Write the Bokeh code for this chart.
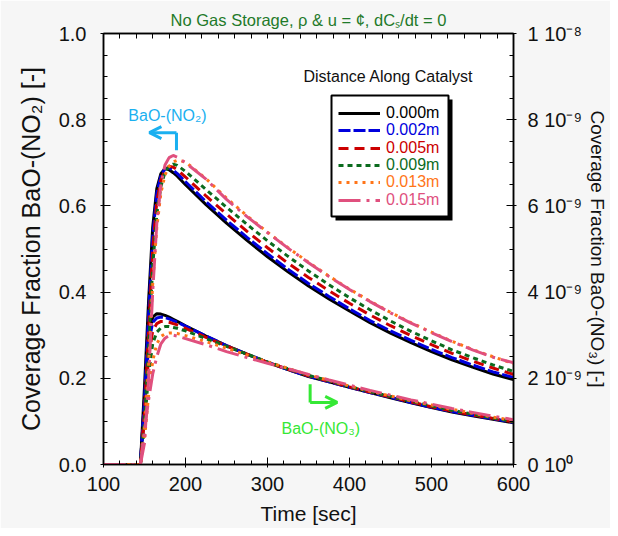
from bokeh.plotting import figure
from bokeh.models import (Range1d, LinearAxis, FixedTicker, PrintfTickFormatter, Legend,
                          LegendItem, Label, BoxAnnotation, Arrow, OpenHead)
from bokeh.embed import file_html
from bokeh.resources import INLINE

# ---------------- data ----------------
time_s = [100, 145, 150, 155, 160, 165, 170, 175, 180, 185, 190, 200, 225, 250, 275,
          300, 325, 350, 375, 400, 425, 450, 475, 500, 525, 550, 575, 600]

distances = ["0.000m", "0.002m", "0.005m", "0.009m", "0.013m", "0.015m"]

# BaO-(NO2) coverage fraction (left axis)
no2_000 = [0, 0, 0.18, 0.38, 0.55, 0.64, 0.675, 0.687, 0.684, 0.677, 0.669, 0.649, 0.603, 0.560, 0.520,
           0.482, 0.447, 0.414, 0.384, 0.356, 0.329, 0.305, 0.283, 0.262, 0.243, 0.226, 0.210, 0.197]
no2_002 = [0, 0, 0.15, 0.35, 0.53, 0.63, 0.670, 0.686, 0.688, 0.683, 0.675, 0.656, 0.610, 0.567, 0.527,
           0.489, 0.453, 0.420, 0.390, 0.361, 0.334, 0.310, 0.288, 0.267, 0.248, 0.231, 0.215, 0.202]
no2_005 = [0, 0, 0.12, 0.31, 0.50, 0.61, 0.660, 0.683, 0.692, 0.690, 0.684, 0.667, 0.623, 0.581, 0.541,
           0.503, 0.467, 0.434, 0.403, 0.374, 0.347, 0.322, 0.299, 0.278, 0.258, 0.240, 0.224, 0.209]
no2_009 = [0, 0, 0.10, 0.27, 0.46, 0.58, 0.645, 0.678, 0.692, 0.697, 0.694, 0.680, 0.638, 0.597, 0.557,
           0.519, 0.483, 0.449, 0.417, 0.387, 0.359, 0.333, 0.309, 0.287, 0.266, 0.248, 0.231, 0.216]
no2_013 = [0, 0, 0.08, 0.23, 0.42, 0.55, 0.630, 0.672, 0.692, 0.702, 0.706, 0.702, 0.663, 0.618, 0.577,
           0.539, 0.503, 0.469, 0.437, 0.407, 0.379, 0.353, 0.329, 0.307, 0.286, 0.267, 0.250, 0.234]
no2_015 = [0, 0, 0.05, 0.20, 0.40, 0.56, 0.650, 0.695, 0.712, 0.717, 0.713, 0.700, 0.662, 0.615, 0.575,
           0.538, 0.502, 0.468, 0.436, 0.406, 0.378, 0.352, 0.328, 0.306, 0.285, 0.266, 0.249, 0.236]

# BaO-(NO3) coverage fraction, in units of 1e-9 (right axis)
no3_000 = [0, 0, 1.5, 3.0, 3.42, 3.50, 3.49, 3.46, 3.42, 3.37, 3.32, 3.22, 2.98, 2.76, 2.56,
           2.37, 2.20, 2.04, 1.92, 1.79, 1.67, 1.55, 1.43, 1.32, 1.22, 1.13, 1.05, 0.97]
no3_002 = [0, 0, 1.3, 2.8, 3.30, 3.40, 3.42, 3.41, 3.38, 3.34, 3.30, 3.21, 2.98, 2.76, 2.56,
           2.37, 2.20, 2.05, 1.92, 1.79, 1.67, 1.56, 1.44, 1.33, 1.23, 1.14, 1.06, 0.98]
no3_005 = [0, 0, 1.1, 2.5, 3.10, 3.27, 3.32, 3.32, 3.30, 3.27, 3.24, 3.16, 2.95, 2.75, 2.56,
           2.37, 2.21, 2.06, 1.93, 1.80, 1.68, 1.57, 1.45, 1.34, 1.24, 1.15, 1.07, 0.99]
no3_009 = [0, 0, 0.9, 2.1, 2.80, 3.07, 3.17, 3.20, 3.20, 3.18, 3.16, 3.10, 2.92, 2.74, 2.56,
           2.38, 2.22, 2.07, 1.94, 1.81, 1.69, 1.58, 1.47, 1.36, 1.26, 1.17, 1.08, 1.00]
no3_013 = [0, 0, 0.6, 1.6, 2.40, 2.80, 2.97, 3.03, 3.05, 3.05, 3.04, 2.99, 2.85, 2.70, 2.54,
           2.38, 2.23, 2.08, 1.95, 1.82, 1.70, 1.59, 1.48, 1.38, 1.28, 1.19, 1.10, 1.02]
no3_015 = [0, 0, 0.8, 1.5, 2.10, 2.50, 2.80, 2.93, 2.99, 3.00, 2.98, 2.92, 2.78, 2.62, 2.48,
           2.35, 2.22, 2.09, 1.96, 1.84, 1.72, 1.61, 1.50, 1.40, 1.30, 1.21, 1.12, 1.04]

x_ticks = [100, 200, 300, 400, 500, 600]
y_ticks = [0.0, 0.2, 0.4, 0.6, 0.8, 1.0]
r_ticks = [0, 2, 4, 6, 8, 10]
r_tick_labels = ["0 10\u2070", "2 10\u207b\u2079", "4 10\u207b\u2079", "6 10\u207b\u2079",
                 "8 10\u207b\u2079", "1 10\u207b\u2078"]

# ---------------- styles ----------------
FONT = "Liberation Sans"
colors = ["#000000", "#0000dd", "#cc0000", "#0b6b1e", "#ff7518", "#e0507e"]
dashes = ["solid", "12 3", "10 6", "5 4", "3 5", "22 6 3 6"]
no2_series = [no2_000, no2_002, no2_005, no2_009, no2_013, no2_015]
no3_series = [no3_000, no3_002, no3_005, no3_009, no3_013, no3_015]

p = figure(width=610, height=528, x_range=Range1d(100, 600), y_range=Range1d(0, 1),
           output_backend="svg", toolbar_location=None,
           min_border_left=103, min_border_right=97, min_border_top=33, min_border_bottom=64)
p.extra_y_ranges = {"no3": Range1d(0, 10)}
p.grid.visible = False
p.outline_line_color = "black"
p.outline_line_width = 1.5
p.background_fill_color = "white"
p.border_fill_color = "#f6f6f6"

title_color = "#1f7a2a"
p.title.text = "No Gas Storage, \u03c1 & u = \u00a2, dC\u209b/dt = 0"
p.title.text_font = FONT
p.title.text_font_size = "16.5px"
p.title.text_font_style = "normal"
p.title.text_color = title_color
p.title.align = "center"
p.title.offset = 10
p.title.standoff = 9

renderers = []
for s2, s3, c, d in zip(no2_series, no3_series, colors, dashes):
    r = p.line(time_s, s2, line_color=c, line_width=3, line_dash=d)
    p.line(time_s, s3, line_color=c, line_width=3, line_dash=d, y_range_name="no3")
    renderers.append(r)


def style_axis(ax):
    ax.axis_line_color = "black"
    ax.axis_line_width = 1.5
    ax.major_tick_line_color = "black"
    ax.minor_tick_line_color = "black"
    ax.major_tick_in = 7
    ax.major_tick_out = 3
    ax.minor_tick_in = 4
    ax.minor_tick_out = 0
    ax.major_label_text_font = FONT
    ax.major_label_text_font_size = "20px"
    ax.major_label_text_color = "#111111"
    ax.axis_label_text_font = FONT
    ax.axis_label_text_font_style = "normal"
    ax.axis_label_text_color = "#111111"


xminor = list(range(100, 601, 20))
yminor = [i * 0.05 for i in range(21)]
rminor = [i * 0.5 for i in range(21)]

xa = p.xaxis[0]
style_axis(xa)
xa.ticker = FixedTicker(ticks=x_ticks, minor_ticks=xminor)
xa.axis_label = "Time [sec]"
xa.axis_label_text_font_size = "21px"
xa.major_label_standoff = 9
xa.axis_label_standoff = 8

ya = p.yaxis[0]
style_axis(ya)
ya.ticker = FixedTicker(ticks=y_ticks, minor_ticks=yminor)
ya.formatter = PrintfTickFormatter(format="%.1f")
ya.axis_label = "Coverage Fraction BaO-(NO\u2082) [-]"
ya.axis_label_text_font_size = "25px"
ya.major_label_standoff = 14
ya.axis_label_standoff = 11

ra = LinearAxis(y_range_name="no3")
style_axis(ra)
ra.ticker = FixedTicker(ticks=r_ticks, minor_ticks=rminor)
ra.major_label_overrides = {k: v for k, v in zip(r_ticks, r_tick_labels)}
ra.axis_label = "Coverage Fraction BaO-(NO\u2083) [-]"
ra.axis_label_text_font_size = "19px"
ra.major_label_standoff = 11
ra.axis_label_standoff = 2
p.add_layout(ra, "right")

# top axis: ticks only (no labels)
ta = LinearAxis()
style_axis(ta)
ta.ticker = FixedTicker(ticks=[], minor_ticks=xminor)
ta.minor_tick_in = 5
p.add_layout(ta, "above")

# ---------------- legend ----------------
p.add_layout(BoxAnnotation(left=232, right=349, top=365, bottom=244,
                           left_units="screen", right_units="screen", top_units="screen",
                           bottom_units="screen", fill_color="black", fill_alpha=1, line_alpha=0))
p.add_layout(BoxAnnotation(left=228, right=345, top=369, bottom=248,
                           left_units="screen", right_units="screen", top_units="screen",
                           bottom_units="screen", fill_color="white", fill_alpha=1,
                           line_color="black", line_alpha=1, line_width=2))
p.add_layout(Label(x=200, y=388, x_units="screen", y_units="screen", text="Distance Along Catalyst",
                   text_font=FONT, text_font_size="16px", text_color="#111111",
                   text_baseline="middle", background_fill_color="white"))

row_centers = [351, 334, 316, 299, 282, 264]
for name, col, r, yc in zip(distances, colors, renderers, row_centers):
    lg = Legend(items=[LegendItem(label=name, renderers=[r])], location=(235, yc - 9),
                padding=0, margin=0, spacing=0, border_line_alpha=0, background_fill_alpha=0,
                glyph_width=42, glyph_height=18, label_height=18, label_standoff=6,
                label_text_font=FONT, label_text_font_size="16px", label_text_color=col)
    p.add_layout(lg)

# ---------------- arrows and series annotations ----------------
cyan = "#1ab0f0"
p.add_layout(Arrow(x_start=189, y_start=0.729, x_end=189, y_end=0.770, end=None,
                   line_color=cyan, line_width=3))
p.add_layout(Arrow(x_start=189, y_start=0.770, x_end=156, y_end=0.770,
                   end=OpenHead(size=12, line_color=cyan, line_width=3),
                   line_color=cyan, line_width=3))
p.add_layout(Label(x=178, y=0.81, text="BaO-(NO\u2082)", text_font=FONT, text_font_size="16px",
                   text_color=cyan, text_align="center", text_baseline="alphabetic"))

green = "#35e835"
p.add_layout(Arrow(x_start=352, y_start=0.186, x_end=352, y_end=0.144, end=None,
                   line_color=green, line_width=3))
p.add_layout(Arrow(x_start=352, y_start=0.144, x_end=385, y_end=0.144,
                   end=OpenHead(size=12, line_color=green, line_width=3),
                   line_color=green, line_width=3))
p.add_layout(Label(x=365, y=0.084, text="BaO-(NO\u2083)", text_font=FONT, text_font_size="16px",
                   text_color=green, text_align="center", text_baseline="alphabetic"))

open("out.html", "w").write(file_html(p, INLINE))
